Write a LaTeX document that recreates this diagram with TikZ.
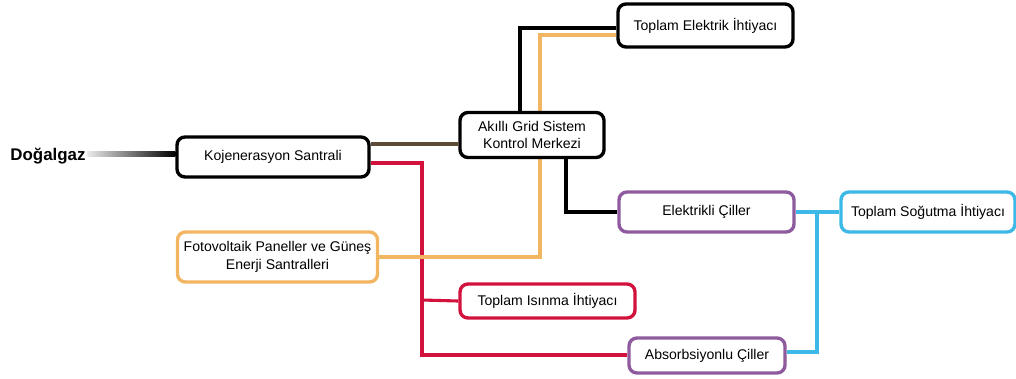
\documentclass[tikz,border=0pt]{standalone}
\usepackage{fontspec}
\setmainfont{Liberation Sans}
\usetikzlibrary{calc,backgrounds}
\definecolor{brownline}{HTML}{5B4B37}
\definecolor{redline}{HTML}{D2123C}
\definecolor{orangeline}{HTML}{F2B662}
\definecolor{purpleline}{HTML}{8E5C9E}
\definecolor{blueline}{HTML}{3CB9E6}

\begin{document}
\begin{tikzpicture}[
    x=0.025cm, y=-0.025cm,
    mybox/.style={draw,rounded corners=2mm,line width=2.4pt,fill=white,align=center,
      font=\fontsize{10}{12.5}\selectfont,inner sep=2pt},
    link/.style={line width=2.2pt}
    ]
    \useasboundingbox (0,0) rectangle (1016,378);

    \node[font=\bfseries\fontsize{12}{14}\selectfont] (gas) at (48,156) {Doğalgaz};
    \node[mybox, minimum width=4.8cm, minimum height=1cm] (koj) at (273,157) {Kojenerasyon Santrali};
    \node[mybox, minimum width=3.6cm, minimum height=1.125cm] (grid) at (532,135) {Akıllı Grid Sistem\\Kontrol Merkezi};
    \node[mybox, minimum width=4.375cm, minimum height=1.075cm] (elek) at (705.5,25.5) {Toplam Elektrik İhtiyacı};
    \node[mybox, draw=purpleline, minimum width=4.375cm, minimum height=1cm] (cil1) at (706.5,212) {Elektrikli Çiller};
    \node[mybox, draw=blueline, minimum width=4.35cm, minimum height=1cm] (sog) at (928,212) {Toplam Soğutma İhtiyacı};
    \node[mybox, draw=orangeline, minimum width=5cm, minimum height=1.25cm] (pv) at (277.5,257) {Fotovoltaik Paneller ve Güneş\\Enerji Santralleri};
    \node[mybox, draw=redline, minimum width=4.375cm, minimum height=0.85cm] (isi) at (547.5,301) {Toplam Isınma İhtiyacı};
    \node[mybox, draw=purpleline, minimum width=3.9cm, minimum height=0.875cm] (abs) at (707,355.5) {Absorbsiyonlu Çiller};

    \begin{scope}[on background layer]
    % natural gas feed
    \shade[left color=black!8, middle color=black!75, right color=black]
      ($(koj.west)+(-88,-6)$) rectangle ($(koj.west)+(0,-1)$);
    % power and heat
    \draw[link, brownline] (koj.east |- 0,144) -- (grid.west |- 0,144);
    \draw[link, redline] (koj.east |- 0,163) -| (422,355) -- (abs.west |- 0,355);
    \draw[link, redline] (422,300) -- (isi.west);
    \draw[link] (grid.north -| 520,0) |- (elek.west |- 0,28);
    \draw[link, orangeline] (pv.east) -| (540,35) -- (elek.west |- 0,35);
    \draw[link] (grid.south -| 566,0) |- (cil1.west);
    % cooling
    \draw[link, blueline] (cil1.east) -- (sog.west);
    \draw[link, blueline] (817,212) |- (abs.east |- 0,352);
    \end{scope}

\end{tikzpicture}
\end{document}
